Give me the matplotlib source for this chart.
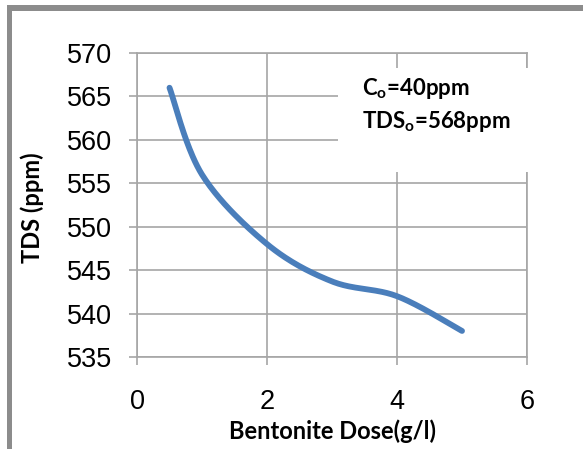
import numpy as np
import matplotlib
import matplotlib.pyplot as plt
from matplotlib.patches import Rectangle

matplotlib.use("Agg")

plt.rcParams["mathtext.fontset"] = "custom"
plt.rcParams["mathtext.rm"] = "Lato:bold"
plt.rcParams["mathtext.it"] = "Lato:bold"
plt.rcParams["mathtext.bf"] = "Lato:bold"

# bentonite dose (g/l) vs. remaining TDS (ppm)
dose = [0.5, 1, 2, 3, 4, 5]
tds = [566, 556, 548, 543.7, 542, 538]

x_ticks = [0, 2, 4, 6]
y_ticks = [535, 540, 545, 550, 555, 560, 565, 570]

grid_color = "#a6a6a6"
line_color = "#4a7ebb"


def smooth_curve(xs, ys, n=40):
    # piecewise cubic Bezier through the points, like a spreadsheet "smoothed line"
    pts = np.column_stack([xs, ys]).astype(float)
    padded = np.vstack([pts[0], pts, pts[-1]])
    out = []
    t = np.linspace(0, 1, n)[:, None]
    for i in range(len(pts) - 1):
        p0 = padded[i + 1]
        p3 = padded[i + 2]
        c1 = p0 + (p3 - padded[i]) / 6
        c2 = p3 - (padded[i + 3] - p0) / 6
        seg = ((1 - t) ** 3) * p0 + 3 * ((1 - t) ** 2) * t * c1 \
            + 3 * (1 - t) * t ** 2 * c2 + t ** 3 * p3
        out.append(seg if i == 0 else seg[1:])
    out = np.vstack(out)
    return out[:, 0], out[:, 1]


fig = plt.figure(figsize=(5.83, 4.49), dpi=100)
ax = fig.add_axes([0.2350, 0.2049, 0.6690, 0.6771])

sx, sy = smooth_curve(dose, tds)
ax.plot(sx, sy, color=line_color, lw=4.2, solid_capstyle="round", zorder=4)

ax.set_xlim(0, 6)
ax.set_ylim(535, 570)
ax.set_xticks(x_ticks)
ax.set_yticks(y_ticks)
ax.grid(True, color=grid_color, lw=1.2)
ax.set_axisbelow(True)
for s in ax.spines.values():
    s.set_color(grid_color)
    s.set_linewidth(1.2)

ax.tick_params(axis="both", colors=grid_color, length=6, width=1.2,
               labelcolor="black", labelsize=19.5)
ax.tick_params(axis="x", pad=17)
ax.tick_params(axis="y", pad=12)
for lab in ax.get_xticklabels() + ax.get_yticklabels():
    lab.set_family("Liberation Sans")

ax.set_xlabel("Bentonite Dose(g/l)", fontsize=17, fontweight="bold", family="Lato")
ax.set_ylabel("TDS (ppm)", fontsize=17, fontweight="bold", family="Lato")
ax.xaxis.set_label_coords(0.5, -0.205)
ax.yaxis.set_label_coords(-0.238, 0.49)

# white panel behind the initial-condition note
ax.add_patch(Rectangle((0.515, 0.609), 0.50, 0.342, transform=ax.transAxes,
                       facecolor="white", edgecolor="none", zorder=3, clip_on=False))
ax.text(0.578, 0.862, r"C$_{\mathrm{o}}$=40ppm", transform=ax.transAxes,
        fontsize=16, fontweight="bold", family="Lato", va="baseline", zorder=5)
ax.text(0.578, 0.753, r"TDS$_{\mathrm{o}}$=568ppm", transform=ax.transAxes,
        fontsize=16, fontweight="bold", family="Lato", va="baseline", zorder=5)

# grey frame along the top and left edges
fig.add_artist(Rectangle((7 / 583, 1 - 11 / 449), 1, 6 / 449, transform=fig.transFigure,
                         facecolor="#8c8c8c", edgecolor="none"))
fig.add_artist(Rectangle((7 / 583, 0), 5 / 583, 1 - 5 / 449, transform=fig.transFigure,
                         facecolor="#8c8c8c", edgecolor="none"))

fig.savefig("out.png", dpi=100)
